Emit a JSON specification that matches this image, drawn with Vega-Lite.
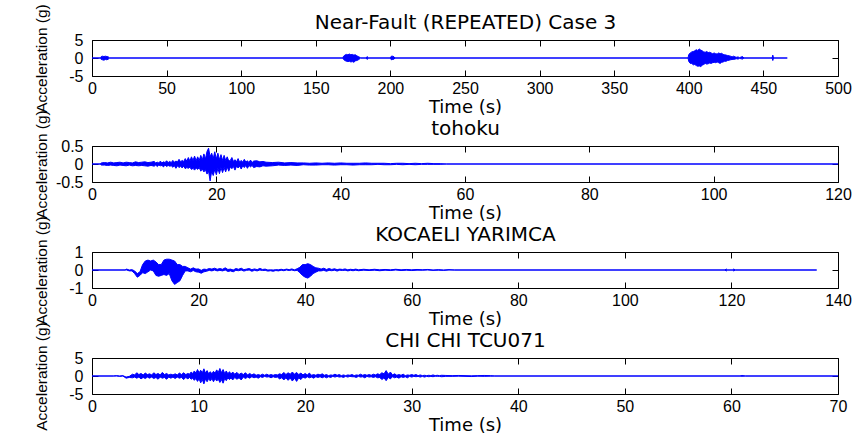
{
"$schema":"https://vega.github.io/schema/vega-lite/v6.json",
"background":"white",
"padding":{"left":33,"top":3,"right":4,"bottom":2},
"bounds":"flush",
"spacing":70,
"config":{
 "view":{"stroke":"#000","strokeWidth":1},
 "axis":{"grid":false,"domain":false,"labelFlush":false,"tickColor":"#000","tickSize":-6,"tickWidth":1,"labelFont":"Liberation Sans","labelFontSize":16,"labelColor":"#000","titleColor":"#000","titleFontWeight":"normal","labelExpr":"'' + datum.value"},
 "axisX":{"labelPadding":10,"titleFont":"DejaVu Sans","titleFontSize":18,"titlePadding":2},
 "axisY":{"labelPadding":15,"titleFont":"Liberation Sans","titleFontSize":15.5,"titleX":-51,"titleBaseline":"middle","titleAngle":-90},
 "area":{"color":"#0000ff","stroke":"#0000ff","strokeWidth":1,"opacity":1,"interpolate":"linear"}
},
"datasets":{
"nf":[{"t":0,"hi":0,"lo":0},{"t":5.8,"hi":0,"lo":0},{"t":6.2,"hi":0.4,"lo":-0.4},{"t":7,"hi":0.5,"lo":-0.5},{"t":8,"hi":0.4,"lo":-0.6},{"t":9,"hi":0.5,"lo":-0.4},{"t":10,"hi":0.4,"lo":-0.5},{"t":11,"hi":0.3,"lo":-0.3},{"t":11.8,"hi":0,"lo":0},
{"t":168,"hi":0,"lo":0},{"t":168.6,"hi":0.5,"lo":-0.4},{"t":169.5,"hi":0.8,"lo":-0.7},{"t":170.5,"hi":1.0,"lo":-0.9},{"t":171.5,"hi":0.9,"lo":-1.0},{"t":172.5,"hi":1.1,"lo":-0.9},{"t":173.5,"hi":0.9,"lo":-1.1},{"t":174.5,"hi":1.0,"lo":-1.0},{"t":175.5,"hi":0.8,"lo":-1.2},{"t":176.5,"hi":0.9,"lo":-0.8},{"t":177.5,"hi":0.6,"lo":-0.7},{"t":178.5,"hi":0.4,"lo":-0.5},{"t":179.5,"hi":0.2,"lo":-0.2},{"t":180,"hi":0,"lo":0},
{"t":183.8,"hi":0,"lo":0},{"t":184.5,"hi":0.4,"lo":-0.4},{"t":185.2,"hi":0,"lo":0},
{"t":200,"hi":0,"lo":0},{"t":200.6,"hi":0.5,"lo":-0.5},{"t":201.5,"hi":0.5,"lo":-0.4},{"t":202.5,"hi":0.3,"lo":-0.3},{"t":203,"hi":0,"lo":0},
{"t":399.5,"hi":0,"lo":0},{"t":400,"hi":1.0,"lo":-1.0},{"t":401,"hi":1.4,"lo":-1.5},{"t":402,"hi":1.7,"lo":-1.5},{"t":403,"hi":1.8,"lo":-1.9},{"t":404,"hi":2.0,"lo":-1.8},{"t":405,"hi":2.3,"lo":-2.1},{"t":406,"hi":2.1,"lo":-2.3},{"t":407,"hi":2.5,"lo":-2.2},{"t":408,"hi":2.2,"lo":-2.4},{"t":409,"hi":2.0,"lo":-2.0},{"t":410,"hi":1.7,"lo":-1.8},{"t":411,"hi":1.6,"lo":-1.5},{"t":412,"hi":1.8,"lo":-1.7},{"t":413,"hi":1.5,"lo":-1.6},{"t":414,"hi":1.6,"lo":-1.4},{"t":415,"hi":1.4,"lo":-1.5},{"t":416,"hi":1.2,"lo":-1.3},{"t":417,"hi":1.4,"lo":-1.2},{"t":418,"hi":1.2,"lo":-1.3},{"t":419,"hi":1.1,"lo":-1.1},{"t":420,"hi":1.4,"lo":-1.3},{"t":421,"hi":1.2,"lo":-1.5},{"t":422,"hi":1.3,"lo":-1.2},{"t":423,"hi":1.0,"lo":-1.1},{"t":424,"hi":0.9,"lo":-0.9},{"t":425,"hi":0.8,"lo":-0.9},{"t":426,"hi":0.7,"lo":-0.7},{"t":427,"hi":0.6,"lo":-0.6},{"t":428,"hi":0.5,"lo":-0.5},{"t":429,"hi":0.3,"lo":-0.4},{"t":430,"hi":0.5,"lo":-0.4},{"t":431,"hi":0.3,"lo":-0.3},{"t":432,"hi":0.2,"lo":-0.2},{"t":433,"hi":0.3,"lo":-0.3},{"t":434,"hi":0.1,"lo":-0.1},{"t":436,"hi":0.4,"lo":-0.3},{"t":437,"hi":0,"lo":0},{"t":455.8,"hi":0,"lo":0},{"t":456.3,"hi":0.8,"lo":-0.7},{"t":456.8,"hi":0,"lo":0},{"t":466,"hi":0,"lo":0}],
"toh":[{"t":0,"hi":0,"lo":0},{"t":1.3,"hi":0,"lo":0},{"t":1.5,"hi":0.03,"lo":-0.03},{"t":2,"hi":0.04,"lo":-0.03},{"t":2.5,"hi":0.03,"lo":-0.04},{"t":3,"hi":0.05,"lo":-0.03},{"t":3.5,"hi":0.03,"lo":-0.04},{"t":4,"hi":0.04,"lo":-0.05},{"t":4.5,"hi":0.05,"lo":-0.03},{"t":5,"hi":0.03,"lo":-0.04},{"t":5.5,"hi":0.05,"lo":-0.05},{"t":6,"hi":0.04,"lo":-0.03},{"t":6.5,"hi":0.03,"lo":-0.05},{"t":7,"hi":0.06,"lo":-0.04},{"t":7.5,"hi":0.04,"lo":-0.05},{"t":8,"hi":0.05,"lo":-0.04},{"t":8.5,"hi":0.06,"lo":-0.05},{"t":9,"hi":0.04,"lo":-0.06},{"t":9.5,"hi":0.05,"lo":-0.04},
{"t":10,"hi":0.07,"lo":-0.06},{"t":10.25,"hi":0.03,"lo":-0.03},{"t":10.5,"hi":0.05,"lo":-0.07},{"t":10.75,"hi":0.03,"lo":-0.03},{"t":11,"hi":0.08,"lo":-0.05},{"t":11.25,"hi":0.03,"lo":-0.04},{"t":11.5,"hi":0.06,"lo":-0.08},{"t":11.75,"hi":0.04,"lo":-0.03},{"t":12,"hi":0.09,"lo":-0.07},{"t":12.25,"hi":0.04,"lo":-0.04},{"t":12.5,"hi":0.07,"lo":-0.06},{"t":12.75,"hi":0.04,"lo":-0.05},{"t":13,"hi":0.1,"lo":-0.09},{"t":13.25,"hi":0.05,"lo":-0.05},{"t":13.5,"hi":0.08,"lo":-0.12},{"t":13.75,"hi":0.06,"lo":-0.05},{"t":14,"hi":0.13,"lo":-0.1},{"t":14.25,"hi":0.06,"lo":-0.06},{"t":14.5,"hi":0.1,"lo":-0.11},{"t":14.75,"hi":0.07,"lo":-0.06},{"t":15,"hi":0.15,"lo":-0.13},{"t":15.25,"hi":0.08,"lo":-0.1},{"t":15.5,"hi":0.18,"lo":-0.12},{"t":15.75,"hi":0.08,"lo":-0.09},{"t":16,"hi":0.2,"lo":-0.15},{"t":16.25,"hi":0.1,"lo":-0.12},{"t":16.5,"hi":0.22,"lo":-0.17},{"t":16.75,"hi":0.09,"lo":-0.11},{"t":17,"hi":0.2,"lo":-0.15},{"t":17.25,"hi":0.1,"lo":-0.1},{"t":17.5,"hi":0.24,"lo":-0.2},{"t":17.75,"hi":0.12,"lo":-0.14},{"t":18,"hi":0.28,"lo":-0.22},{"t":18.25,"hi":0.14,"lo":-0.16},{"t":18.5,"hi":0.35,"lo":-0.28},{"t":18.75,"hi":0.44,"lo":-0.2},{"t":19,"hi":0.2,"lo":-0.47},{"t":19.25,"hi":0.3,"lo":-0.2},{"t":19.5,"hi":0.15,"lo":-0.32},{"t":19.75,"hi":0.34,"lo":-0.15},{"t":20,"hi":0.14,"lo":-0.3},{"t":20.25,"hi":0.3,"lo":-0.12},{"t":20.5,"hi":0.12,"lo":-0.27},{"t":20.75,"hi":0.26,"lo":-0.1},{"t":21,"hi":0.1,"lo":-0.24},{"t":21.25,"hi":0.24,"lo":-0.1},{"t":21.5,"hi":0.1,"lo":-0.22},{"t":21.75,"hi":0.2,"lo":-0.08},{"t":22,"hi":0.08,"lo":-0.2},{"t":22.25,"hi":0.1,"lo":-0.08},{"t":22.5,"hi":0.18,"lo":-0.13},{"t":22.75,"hi":0.07,"lo":-0.07},{"t":23,"hi":0.12,"lo":-0.17},{"t":23.25,"hi":0.06,"lo":-0.06},{"t":23.5,"hi":0.15,"lo":-0.11},{"t":23.75,"hi":0.05,"lo":-0.06},{"t":24,"hi":0.1,"lo":-0.14},{"t":24.25,"hi":0.05,"lo":-0.05},{"t":24.5,"hi":0.13,"lo":-0.1},{"t":24.75,"hi":0.05,"lo":-0.04},{"t":25,"hi":0.09,"lo":-0.12},{"t":25.25,"hi":0.04,"lo":-0.04},{"t":25.5,"hi":0.11,"lo":-0.08},{"t":25.75,"hi":0.04,"lo":-0.04},{"t":26,"hi":0.08,"lo":-0.1},{"t":26.5,"hi":0.09,"lo":-0.07},{"t":27,"hi":0.06,"lo":-0.08},{"t":27.5,"hi":0.07,"lo":-0.05},{"t":28,"hi":0.05,"lo":-0.06},{"t":29,"hi":0.04,"lo":-0.05},{"t":30,"hi":0.05,"lo":-0.03},{"t":31,"hi":0.03,"lo":-0.04},{"t":32,"hi":0.04,"lo":-0.03},{"t":33,"hi":0.03,"lo":-0.04},{"t":34,"hi":0.03,"lo":-0.02},{"t":35,"hi":0.02,"lo":-0.03},{"t":36,"hi":0.03,"lo":-0.03},{"t":37,"hi":0.02,"lo":-0.02},{"t":38,"hi":0.03,"lo":-0.02},{"t":39,"hi":0.02,"lo":-0.03},{"t":40,"hi":0.03,"lo":-0.02},{"t":41,"hi":0.02,"lo":-0.02},{"t":42,"hi":0.02,"lo":-0.03},{"t":43,"hi":0.02,"lo":-0.02},{"t":44,"hi":0.03,"lo":-0.02},{"t":45,"hi":0.02,"lo":-0.02},{"t":46,"hi":0.02,"lo":-0.01},{"t":47,"hi":0.02,"lo":-0.02},{"t":48,"hi":0.01,"lo":-0.02},{"t":49,"hi":0.02,"lo":-0.01},{"t":50,"hi":0.02,"lo":-0.02},{"t":51,"hi":0.01,"lo":-0.01},{"t":52,"hi":0.02,"lo":-0.02},{"t":53,"hi":0.01,"lo":-0.01},{"t":54,"hi":0.02,"lo":-0.01},{"t":55,"hi":0.01,"lo":-0.01},{"t":56,"hi":0.01,"lo":-0.01},{"t":57,"hi":0,"lo":0},{"t":120,"hi":0,"lo":0}],
"koc":[{"t":0,"hi":0,"lo":0},{"t":6.2,"hi":0,"lo":0},{"t":6.5,"hi":0.05,"lo":0},{"t":7,"hi":0,"lo":-0.05},{"t":7.5,"hi":0.02,"lo":-0.05},{"t":8,"hi":-0.05,"lo":-0.2},{"t":8.5,"hi":-0.2,"lo":-0.4},{"t":9,"hi":-0.1,"lo":-0.3},{"t":9.5,"hi":0.3,"lo":-0.15},{"t":10,"hi":0.5,"lo":-0.2},{"t":10.5,"hi":0.55,"lo":-0.1},{"t":11,"hi":0.5,"lo":0},{"t":11.5,"hi":0.55,"lo":-0.05},{"t":12,"hi":0.45,"lo":-0.3},{"t":12.5,"hi":0.3,"lo":-0.35},{"t":13,"hi":0.3,"lo":-0.3},{"t":13.5,"hi":0.55,"lo":-0.25},{"t":14,"hi":0.6,"lo":-0.3},{"t":14.5,"hi":0.6,"lo":-0.2},{"t":15,"hi":0.55,"lo":-0.6},{"t":15.5,"hi":0.5,"lo":-0.8},{"t":16,"hi":0.3,"lo":-0.7},{"t":16.5,"hi":0.3,"lo":-0.6},{"t":17,"hi":0.2,"lo":-0.3},{"t":17.5,"hi":0.2,"lo":-0.05},{"t":18,"hi":0.12,"lo":-0.05},{"t":18.5,"hi":0.05,"lo":-0.1},{"t":19,"hi":0.12,"lo":-0.03},{"t":19.5,"hi":0.05,"lo":-0.1},{"t":20,"hi":0.06,"lo":-0.12},{"t":20.5,"hi":-0.02,"lo":-0.18},{"t":21,"hi":0.05,"lo":-0.1},{"t":21.5,"hi":0.03,"lo":-0.07},{"t":22,"hi":0.08,"lo":-0.02},{"t":22.5,"hi":0.05,"lo":-0.05},{"t":23,"hi":0.1,"lo":0},{"t":23.5,"hi":0.04,"lo":-0.05},{"t":24,"hi":0.08,"lo":-0.02},{"t":24.5,"hi":0.04,"lo":-0.05},{"t":25,"hi":0.12,"lo":0},{"t":25.5,"hi":0.03,"lo":-0.08},{"t":26,"hi":0.05,"lo":-0.05},{"t":26.5,"hi":0,"lo":-0.1},{"t":27,"hi":0.08,"lo":-0.02},{"t":27.5,"hi":0.04,"lo":-0.04},{"t":28,"hi":0.1,"lo":0},{"t":28.5,"hi":0.02,"lo":-0.06},{"t":29,"hi":0.05,"lo":-0.02},{"t":29.5,"hi":0.08,"lo":0},{"t":30,"hi":0.02,"lo":-0.07},{"t":30.5,"hi":0.06,"lo":-0.02},{"t":31,"hi":0.02,"lo":-0.05},{"t":31.5,"hi":0.09,"lo":0},{"t":32,"hi":0.03,"lo":-0.03},{"t":32.5,"hi":0.05,"lo":-0.02},{"t":33,"hi":0,"lo":-0.06},{"t":33.5,"hi":0.01,"lo":-0.04},{"t":34,"hi":0,"lo":-0.07},{"t":34.5,"hi":0.02,"lo":-0.03},{"t":35,"hi":0.01,"lo":-0.05},{"t":35.5,"hi":0.04,"lo":-0.01},{"t":36,"hi":0.01,"lo":-0.04},{"t":36.5,"hi":0.05,"lo":0},{"t":37,"hi":0.02,"lo":-0.03},{"t":37.5,"hi":0.06,"lo":0},{"t":38,"hi":0.01,"lo":-0.04},{"t":38.5,"hi":0.07,"lo":-0.02},{"t":39,"hi":0.15,"lo":-0.15},{"t":39.5,"hi":0.3,"lo":-0.3},{"t":40,"hi":0.3,"lo":-0.4},{"t":40.5,"hi":0.35,"lo":-0.45},{"t":41,"hi":0.3,"lo":-0.35},{"t":41.5,"hi":0.2,"lo":-0.2},{"t":42,"hi":0.12,"lo":-0.12},{"t":42.5,"hi":0.1,"lo":-0.05},{"t":43,"hi":0.05,"lo":-0.05},{"t":43.5,"hi":0.1,"lo":-0.02},{"t":44,"hi":0.03,"lo":-0.07},{"t":44.5,"hi":0.08,"lo":-0.02},{"t":45,"hi":0.03,"lo":-0.04},{"t":45.5,"hi":0.07,"lo":-0.01},{"t":46,"hi":0.02,"lo":-0.06},{"t":46.5,"hi":0.05,"lo":-0.01},{"t":47,"hi":0.03,"lo":-0.03},{"t":47.5,"hi":0.06,"lo":-0.01},{"t":48,"hi":0.01,"lo":-0.05},{"t":48.5,"hi":0.04,"lo":-0.02},{"t":49,"hi":0.02,"lo":-0.04},{"t":49.5,"hi":0.05,"lo":-0.01},{"t":50,"hi":0.01,"lo":-0.04},{"t":51,"hi":0.04,"lo":-0.01},{"t":52,"hi":0.01,"lo":-0.03},{"t":53,"hi":0.04,"lo":-0.01},{"t":54,"hi":0.01,"lo":-0.04},{"t":55,"hi":0.03,"lo":-0.01},{"t":56,"hi":0.01,"lo":-0.03},{"t":57,"hi":0.04,"lo":0},{"t":58,"hi":0.01,"lo":-0.03},{"t":59,"hi":0.03,"lo":-0.01},{"t":60,"hi":0.01,"lo":-0.03},{"t":61,"hi":0.03,"lo":-0.01},{"t":62,"hi":0.01,"lo":-0.01},{"t":63,"hi":0.03,"lo":0},{"t":64,"hi":0,"lo":-0.02},{"t":65,"hi":0.02,"lo":-0.01},{"t":66,"hi":0,"lo":-0.02},{"t":67,"hi":0.02,"lo":0},{"t":68,"hi":0,"lo":0},{"t":118.8,"hi":0,"lo":0},{"t":119,"hi":0.06,"lo":-0.06},{"t":119.3,"hi":0,"lo":0},{"t":120.2,"hi":0,"lo":0},{"t":120.4,"hi":0.06,"lo":-0.06},{"t":120.7,"hi":0,"lo":0},{"t":136,"hi":0,"lo":0}],
"chi":[{"t":0,"hi":0,"lo":0},{"t":2,"hi":0,"lo":0},{"t":2.3,"hi":0.1,"lo":0},{"t":2.6,"hi":0,"lo":-0.1},{"t":2.9,"hi":0.1,"lo":0},{"t":3.2,"hi":-0.3,"lo":-0.6},{"t":3.5,"hi":-0.1,"lo":-0.4},{"t":3.8,"hi":0.5,"lo":-0.5},{"t":4.0,"hi":0.3,"lo":-0.3},{"t":4.2,"hi":0.9,"lo":-0.6},{"t":4.4,"hi":0.4,"lo":-0.3},{"t":4.6,"hi":0.7,"lo":-0.8},{"t":4.8,"hi":0.3,"lo":-0.4},{"t":5.0,"hi":0.8,"lo":-0.7},{"t":5.2,"hi":0.4,"lo":-0.3},{"t":5.4,"hi":0.6,"lo":-0.6},{"t":5.6,"hi":0.3,"lo":-0.3},{"t":5.8,"hi":0.9,"lo":-0.7},{"t":6.0,"hi":0.4,"lo":-0.4},{"t":6.2,"hi":0.7,"lo":-0.9},{"t":6.4,"hi":0.3,"lo":-0.3},{"t":6.6,"hi":1.0,"lo":-0.6},{"t":6.8,"hi":0.4,"lo":-0.4},{"t":7.0,"hi":0.7,"lo":-0.9},{"t":7.2,"hi":0.3,"lo":-0.3},{"t":7.4,"hi":0.5,"lo":-0.6},{"t":7.6,"hi":0.3,"lo":-0.3},{"t":7.8,"hi":0.6,"lo":-0.7},{"t":8.0,"hi":0.3,"lo":-0.3},{"t":8.2,"hi":0.8,"lo":-0.6},{"t":8.4,"hi":0.4,"lo":-0.4},{"t":8.6,"hi":0.9,"lo":-1.0},{"t":8.8,"hi":0.4,"lo":-0.4},{"t":9.0,"hi":0.7,"lo":-0.8},{"t":9.15,"hi":0.5,"lo":-0.4},{"t":9.3,"hi":1.1,"lo":-0.9},{"t":9.45,"hi":0.7,"lo":-0.6},{"t":9.6,"hi":1.4,"lo":-1.2},{"t":9.75,"hi":0.8,"lo":-0.7},{"t":9.9,"hi":1.8,"lo":-1.5},{"t":10.05,"hi":0.9,"lo":-0.8},{"t":10.2,"hi":1.6,"lo":-1.9},{"t":10.35,"hi":0.9,"lo":-1.0},{"t":10.5,"hi":2.0,"lo":-2.2},{"t":10.65,"hi":0.8,"lo":-0.8},{"t":10.8,"hi":1.5,"lo":-1.6},{"t":10.95,"hi":0.6,"lo":-0.7},{"t":11.1,"hi":1.2,"lo":-1.4},{"t":11.25,"hi":0.6,"lo":-0.7},{"t":11.4,"hi":1.3,"lo":-1.6},{"t":11.55,"hi":0.8,"lo":-0.7},{"t":11.7,"hi":1.7,"lo":-1.4},{"t":11.85,"hi":1.0,"lo":-0.9},{"t":12.0,"hi":2.1,"lo":-1.8},{"t":12.15,"hi":0.9,"lo":-1.0},{"t":12.3,"hi":1.8,"lo":-2.0},{"t":12.45,"hi":0.7,"lo":-0.7},{"t":12.6,"hi":1.4,"lo":-1.3},{"t":12.75,"hi":0.6,"lo":-0.5},{"t":12.9,"hi":1.2,"lo":-1.0},{"t":13.05,"hi":0.5,"lo":-0.5},{"t":13.2,"hi":1.1,"lo":-1.1},{"t":13.4,"hi":0.5,"lo":-0.4},{"t":13.6,"hi":1.0,"lo":-0.9},{"t":13.8,"hi":0.4,"lo":-0.5},{"t":14.0,"hi":0.8,"lo":-1.1},{"t":14.2,"hi":0.4,"lo":-0.3},{"t":14.4,"hi":0.9,"lo":-0.7},{"t":14.6,"hi":0.3,"lo":-0.3},{"t":14.8,"hi":0.7,"lo":-0.6},{"t":15.0,"hi":0.3,"lo":-0.2},{"t":15.2,"hi":0.6,"lo":-0.5},{"t":15.4,"hi":0.2,"lo":-0.3},{"t":15.6,"hi":0.4,"lo":-0.6},{"t":15.8,"hi":0.2,"lo":-0.2},{"t":16.0,"hi":0.5,"lo":-0.4},{"t":16.2,"hi":0.2,"lo":-0.1},{"t":16.4,"hi":0.5,"lo":-0.3},{"t":16.6,"hi":0.2,"lo":-0.2},{"t":16.8,"hi":0.4,"lo":-0.5},{"t":17.0,"hi":0.2,"lo":-0.2},{"t":17.2,"hi":0.4,"lo":-0.4},{"t":17.4,"hi":0.3,"lo":-0.3},{"t":17.6,"hi":0.6,"lo":-0.8},{"t":17.8,"hi":0.4,"lo":-0.5},{"t":18.0,"hi":1.0,"lo":-1.1},{"t":18.2,"hi":0.4,"lo":-0.5},{"t":18.4,"hi":0.9,"lo":-1.2},{"t":18.6,"hi":0.5,"lo":-0.6},{"t":18.8,"hi":1.1,"lo":-1.4},{"t":19.0,"hi":0.5,"lo":-0.6},{"t":19.2,"hi":1.0,"lo":-1.5},{"t":19.4,"hi":0.4,"lo":-0.5},{"t":19.6,"hi":0.8,"lo":-1.0},{"t":19.8,"hi":0.3,"lo":-0.3},{"t":20.0,"hi":0.7,"lo":-0.6},{"t":20.2,"hi":0.3,"lo":-0.2},{"t":20.4,"hi":0.8,"lo":-0.5},{"t":20.6,"hi":0.2,"lo":-0.3},{"t":20.8,"hi":0.4,"lo":-0.6},{"t":21.0,"hi":0.2,"lo":-0.2},{"t":21.2,"hi":0.5,"lo":-0.4},{"t":21.4,"hi":0.3,"lo":-0.2},{"t":21.6,"hi":0.6,"lo":-0.5},{"t":21.8,"hi":0.2,"lo":-0.2},{"t":22.0,"hi":0.4,"lo":-0.5},{"t":22.2,"hi":0.1,"lo":-0.2},{"t":22.4,"hi":0.3,"lo":-0.4},{"t":22.6,"hi":0.2,"lo":-0.1},{"t":22.8,"hi":0.5,"lo":-0.3},{"t":23.0,"hi":0.2,"lo":-0.1},{"t":23.2,"hi":0.4,"lo":-0.3},{"t":23.4,"hi":0.1,"lo":-0.2},{"t":23.6,"hi":0.3,"lo":-0.4},{"t":23.8,"hi":0.1,"lo":-0.1},{"t":24.0,"hi":0.3,"lo":-0.3},{"t":24.2,"hi":0.2,"lo":-0.1},{"t":24.4,"hi":0.4,"lo":-0.2},{"t":24.6,"hi":0.1,"lo":-0.2},{"t":24.8,"hi":0.3,"lo":-0.4},{"t":25.0,"hi":0.2,"lo":-0.1},{"t":25.2,"hi":0.5,"lo":-0.3},{"t":25.4,"hi":0.2,"lo":-0.2},{"t":25.6,"hi":0.4,"lo":-0.5},{"t":25.8,"hi":0.2,"lo":-0.1},{"t":26.0,"hi":0.4,"lo":-0.3},{"t":26.2,"hi":0.2,"lo":-0.2},{"t":26.4,"hi":0.5,"lo":-0.4},{"t":26.6,"hi":0.3,"lo":-0.2},{"t":26.8,"hi":0.6,"lo":-0.5},{"t":27.0,"hi":0.4,"lo":-0.4},{"t":27.2,"hi":0.9,"lo":-1.0},{"t":27.4,"hi":0.6,"lo":-0.5},{"t":27.6,"hi":1.5,"lo":-1.3},{"t":27.8,"hi":0.5,"lo":-0.4},{"t":28.0,"hi":1.1,"lo":-0.8},{"t":28.2,"hi":0.3,"lo":-0.2},{"t":28.4,"hi":0.6,"lo":-0.5},{"t":28.6,"hi":0.2,"lo":-0.3},{"t":28.8,"hi":0.4,"lo":-0.6},{"t":29.0,"hi":0.2,"lo":-0.2},{"t":29.2,"hi":0.5,"lo":-0.4},{"t":29.4,"hi":0.1,"lo":-0.2},{"t":29.6,"hi":0.3,"lo":-0.5},{"t":29.8,"hi":0.2,"lo":-0.1},{"t":30.0,"hi":0.4,"lo":-0.3},{"t":30.2,"hi":0.2,"lo":-0.1},{"t":30.4,"hi":0.4,"lo":-0.2},{"t":30.6,"hi":0.1,"lo":-0.1},{"t":30.8,"hi":0.3,"lo":-0.3},{"t":31.0,"hi":0.1,"lo":-0.1},{"t":31.2,"hi":0.2,"lo":-0.3},{"t":31.4,"hi":0.1,"lo":-0.1},{"t":31.6,"hi":0.2,"lo":-0.2},{"t":31.8,"hi":0.1,"lo":-0.1},{"t":32.0,"hi":0.3,"lo":-0.2},{"t":32.2,"hi":0.1,"lo":-0.05},{"t":32.4,"hi":0.2,"lo":-0.1},{"t":32.6,"hi":0.1,"lo":-0.1},{"t":32.8,"hi":0.2,"lo":-0.2},{"t":33.2,"hi":0.15,"lo":-0.1},{"t":33.8,"hi":0.1,"lo":-0.1},{"t":34.4,"hi":0.15,"lo":-0.05},{"t":35.0,"hi":0.1,"lo":-0.1},{"t":35.6,"hi":0.05,"lo":-0.15},{"t":36.2,"hi":0.1,"lo":-0.05},{"t":36.8,"hi":0.15,"lo":-0.1},{"t":37.4,"hi":0.1,"lo":-0.05},{"t":37.8,"hi":0,"lo":0},{"t":60.8,"hi":0,"lo":0},{"t":61,"hi":0.15,"lo":-0.1},{"t":61.3,"hi":0,"lo":0},{"t":70,"hi":0,"lo":0}]
},
"vconcat":[
{"width":746,"height":36,
 "layer":[
  {"data":{"name":"nf"},"mark":{"type":"area"},
   "encoding":{"x":{"field":"t","type":"quantitative","scale":{"domain":[0,500],"nice":false,"zero":false},"axis":{"values":[0,50,100,150,200,250,300,350,400,450,500],"title":"Time (s)"}},
   "y":{"field":"hi","type":"quantitative","scale":{"domain":[-5,5],"nice":false},"axis":{"values":[-5,0,5],"title":"Acceleration (g)"}},"y2":{"field":"lo"}}},
  {"data":{"values":[{}]},"mark":{"type":"point","opacity":0},
   "encoding":{"x":{"datum":0,"type":"quantitative","axis":{"orient":"top","labels":false,"title":"Near-Fault (REPEATED) Case 3","titleFont":"DejaVu Sans","titleFontSize":20,"titlePadding":7,"values":[0,50,100,150,200,250,300,350,400,450,500]}},
   "y":{"datum":0,"type":"quantitative","axis":{"orient":"right","labels":false,"title":null,"values":[-5,0,5]}}}}
 ],
 "resolve":{"axis":{"x":"independent","y":"independent"}}},
{"width":746,"height":36,
 "layer":[
  {"data":{"name":"toh"},"mark":{"type":"area"},
   "encoding":{"x":{"field":"t","type":"quantitative","scale":{"domain":[0,120],"nice":false,"zero":false},"axis":{"values":[0,20,40,60,80,100,120],"title":"Time (s)"}},
   "y":{"field":"hi","type":"quantitative","scale":{"domain":[-0.5,0.5],"nice":false},"axis":{"values":[-0.5,0,0.5],"title":"Acceleration (g)"}},"y2":{"field":"lo"}}},
  {"data":{"values":[{}]},"mark":{"type":"point","opacity":0},
   "encoding":{"x":{"datum":0,"type":"quantitative","axis":{"orient":"top","labels":false,"title":"tohoku","titleFont":"DejaVu Sans","titleFontSize":20,"titlePadding":7,"values":[0,20,40,60,80,100,120]}},
   "y":{"datum":0,"type":"quantitative","axis":{"orient":"right","labels":false,"title":null,"values":[-0.5,0,0.5]}}}}
 ],
 "resolve":{"axis":{"x":"independent","y":"independent"}}},
{"width":746,"height":36,
 "layer":[
  {"data":{"name":"koc"},"mark":{"type":"area"},
   "encoding":{"x":{"field":"t","type":"quantitative","scale":{"domain":[0,140],"nice":false,"zero":false},"axis":{"values":[0,20,40,60,80,100,120,140],"title":"Time (s)"}},
   "y":{"field":"hi","type":"quantitative","scale":{"domain":[-1,1],"nice":false},"axis":{"values":[-1,0,1],"title":"Acceleration (g)"}},"y2":{"field":"lo"}}},
  {"data":{"values":[{}]},"mark":{"type":"point","opacity":0},
   "encoding":{"x":{"datum":0,"type":"quantitative","axis":{"orient":"top","labels":false,"title":"KOCAELI YARIMCA","titleFont":"DejaVu Sans","titleFontSize":20,"titlePadding":7,"values":[0,20,40,60,80,100,120,140]}},
   "y":{"datum":0,"type":"quantitative","axis":{"orient":"right","labels":false,"title":null,"values":[-1,0,1]}}}}
 ],
 "resolve":{"axis":{"x":"independent","y":"independent"}}},
{"width":746,"height":36,
 "layer":[
  {"data":{"name":"chi"},"mark":{"type":"area"},
   "encoding":{"x":{"field":"t","type":"quantitative","scale":{"domain":[0,70],"nice":false,"zero":false},"axis":{"values":[0,10,20,30,40,50,60,70],"title":"Time (s)"}},
   "y":{"field":"hi","type":"quantitative","scale":{"domain":[-5,5],"nice":false},"axis":{"values":[-5,0,5],"title":"Acceleration (g)"}},"y2":{"field":"lo"}}},
  {"data":{"values":[{}]},"mark":{"type":"point","opacity":0},
   "encoding":{"x":{"datum":0,"type":"quantitative","axis":{"orient":"top","labels":false,"title":"CHI CHI TCU071","titleFont":"DejaVu Sans","titleFontSize":20,"titlePadding":7,"values":[0,10,20,30,40,50,60,70]}},
   "y":{"datum":0,"type":"quantitative","axis":{"orient":"right","labels":false,"title":null,"values":[-5,0,5]}}}}
 ],
 "resolve":{"axis":{"x":"independent","y":"independent"}}}
]
}
